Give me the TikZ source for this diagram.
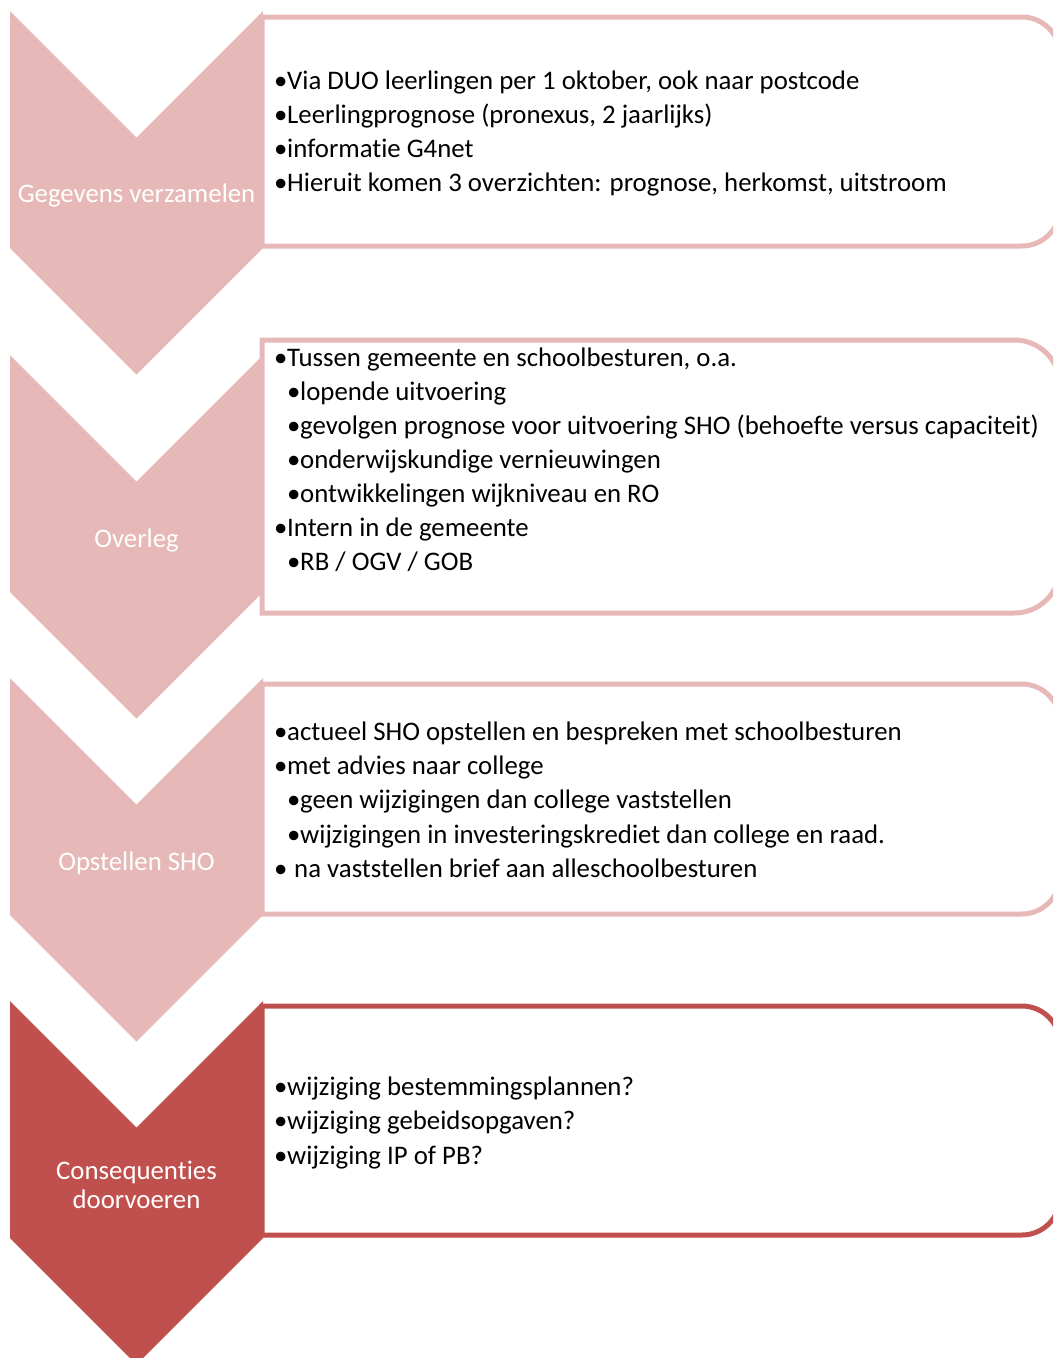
\documentclass[tikz,border=0pt]{standalone}
\usepackage{fontspec}
\setmainfont{Carlito}[Ligatures=NoCommon]
\definecolor{chevlight}{HTML}{E6B9B8}
\definecolor{chevdark}{HTML}{C0504D}

\tikzset{
  stepbox/.style={fill=white, draw=#1, line width=5pt},
  itemtext/.style={anchor=base west, inner sep=0pt, text=black,
    font=\fontsize{26.8}{34}\selectfont},
  chevlabel/.style={anchor=base, inner sep=0pt, text=white, align=center,
    font=\fontsize{26.8}{29}\selectfont},
}

% chevron pointing down: #1 = top edge, #2 = fill colour
\newcommand\chevshape[2]{%
  \fill[#2] (10,#1) -- (136.5,#1+126.5) -- (263,#1) -- (263,#1+237)
    -- (136.5,#1+363.5) -- (10,#1+237) -- cycle;}

% text box with rounded right corners: #1 top, #2 bottom, #3 colour
\newcommand\infobox[3]{%
  \draw[stepbox=#3] (262,#1) -- ({1060-(#2-#1)/6},#1)
    arc[start angle=-90, end angle=0, radius={(#2-#1)/6}]
    -- (1060,{#2-(#2-#1)/6})
    arc[start angle=0, end angle=90, radius={(#2-#1)/6}]
    -- (262,#2) -- cycle;}

\newcommand\bul{\makebox[13pt][l]{•}}

\begin{document}
\begin{tikzpicture}[x=1pt, y=-1pt]
  \useasboundingbox (0,0) rectangle (1053,1358);
  \clip (0,0) rectangle (1053,1358);

  % boxes
  \infobox{17}{246}{chevlight}
  \infobox{340}{613}{chevlight}
  \infobox{684}{914}{chevlight}
  \infobox{1006}{1235}{chevdark}

  % chevrons
  \chevshape{11}{chevlight}
  \chevshape{355}{chevlight}
  \chevshape{678}{chevlight}
  \chevshape{1001}{chevdark}

  % chevron labels
  \node[chevlabel] (lab1) at (136.5,202) {Gegevens verzamelen};
  \node[chevlabel] (lab2) at (136.5,547) {Overleg};
  \node[chevlabel] (lab3) at (136.5,870) {Opstellen SHO};
  \node[chevlabel] (lab4) at (136.5,1208) {Consequenties\\doorvoeren};

  % box 1
  \node[itemtext] (a1) at (274,89)  {\bul Via DUO leerlingen per 1 oktober, ook naar postcode};
  \node[itemtext] (a2) at (274,123) {\bul Leerlingprognose (pronexus, 2 jaarlijks)};
  \node[itemtext] (a3) at (274,157) {\bul informatie G4net};
  \node[itemtext] (a4) at (274,191) {\bul Hieruit komen 3 overzichten: prognose, herkomst, uitstroom};

  % box 2
  \node[itemtext] (b1) at (274,366) {\bul Tussen gemeente en schoolbesturen, o.a.};
  \node[itemtext] (b2) at (287,400) {\bul lopende uitvoering};
  \node[itemtext] (b3) at (287,434) {\bul gevolgen prognose voor uitvoering SHO (behoefte versus capaciteit)};
  \node[itemtext] (b4) at (287,468) {\bul onderwijskundige vernieuwingen};
  \node[itemtext] (b5) at (287,502) {\bul ontwikkelingen wijkniveau en RO};
  \node[itemtext] (b6) at (274,536) {\bul Intern in de gemeente};
  \node[itemtext] (b7) at (287,570) {\bul RB / OGV / GOB};

  % box 3
  \node[itemtext] (c1) at (274,740) {\bul actueel SHO opstellen en bespreken met schoolbesturen};
  \node[itemtext] (c2) at (274,774) {\bul met advies naar college};
  \node[itemtext] (c3) at (287,808) {\bul geen wijzigingen dan college vaststellen};
  \node[itemtext] (c4) at (287,843) {\bul wijzigingen in investeringskrediet dan college en raad.};
  \node[itemtext] (c5) at (274,877) {\makebox[14pt][l]{•}\ na vaststellen brief aan alleschoolbesturen};

  % box 4
  \node[itemtext] (d1) at (274,1095) {\bul wijziging bestemmingsplannen?};
  \node[itemtext] (d2) at (274,1129) {\bul wijziging gebeidsopgaven?};
  \node[itemtext] (d3) at (274,1164) {\bul wijziging IP of PB?};
\end{tikzpicture}
\end{document}
